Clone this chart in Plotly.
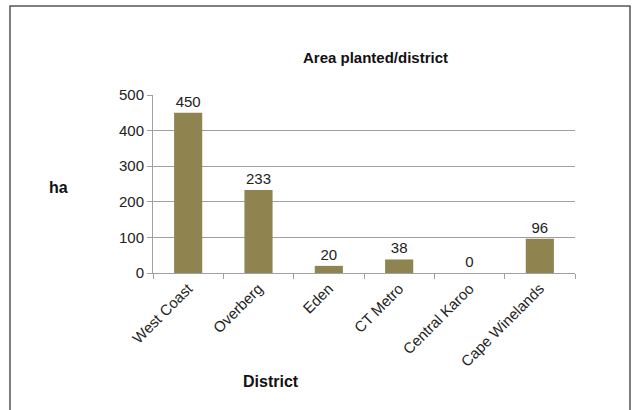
import plotly.graph_objects as go

# Planted area per district (hectares)
districts = ["West Coast", "Overberg", "Eden", "CT Metro", "Central Karoo", "Cape Winelands"]
area_ha = [450, 233, 20, 38, 0, 96]
y_ticks = [0, 100, 200, 300, 400, 500]

FONT = "Liberation Sans, Arial, sans-serif"
BAR = "#8F8450"
GRID = "#a0a0a0"
TEXT = "#222222"

fig = go.Figure(
    go.Bar(
        x=districts,
        y=area_ha,
        marker=dict(color=BAR, line=dict(width=0)),
        text=[str(v) for v in area_ha],
        textposition="outside",
        textfont=dict(family=FONT, size=15, color=TEXT),
        cliponaxis=False,
    )
)

fig.update_layout(
    width=632,
    height=410,
    margin=dict(l=153, r=57, t=95, b=137),
    paper_bgcolor="white",
    plot_bgcolor="white",
    bargap=0.6,
    showlegend=False,
    font=dict(family=FONT, size=15, color=TEXT),
    xaxis=dict(
        type="category",
        showgrid=False,
        showline=True,
        linecolor=GRID,
        linewidth=1,
        ticks="outside",
        tickson="boundaries",
        ticklen=5,
        tickcolor=GRID,
        tickangle=-45,
        tickfont=dict(family=FONT, size=15, color=TEXT),
    ),
    yaxis=dict(
        range=[0, 500],
        tickvals=y_ticks,
        showgrid=True,
        gridcolor=GRID,
        gridwidth=1,
        showline=True,
        linecolor=GRID,
        linewidth=1,
        ticks="outside",
        ticklen=5,
        tickcolor=GRID,
        zeroline=False,
        tickfont=dict(family=FONT, size=15, color=TEXT),
    ),
    shapes=[
        dict(
            type="rect", xref="paper", yref="paper",
            x0=-0.3389, x1=1.1303, y0=-0.79, y1=1.5,
            line=dict(color="#555555", width=1.5),
            fillcolor="rgba(0,0,0,0)", layer="below",
        )
    ],
    annotations=[
        dict(text="<b>Area planted/district</b>", xref="paper", yref="paper",
             x=0.528, y=1.208, xanchor="center", yanchor="middle", showarrow=False,
             font=dict(family=FONT, size=15, color="#111111")),
        dict(text="<b>ha</b>", xref="paper", yref="paper",
             x=-0.225, y=0.483, xanchor="center", yanchor="middle", showarrow=False,
             font=dict(family=FONT, size=16, color="#111111")),
        dict(text="<b>District</b>", xref="paper", yref="paper",
             x=0.28, y=-0.607, xanchor="center", yanchor="middle", showarrow=False,
             font=dict(family=FONT, size=16, color="#111111")),
    ],
)

fig.write_html("out.html")
